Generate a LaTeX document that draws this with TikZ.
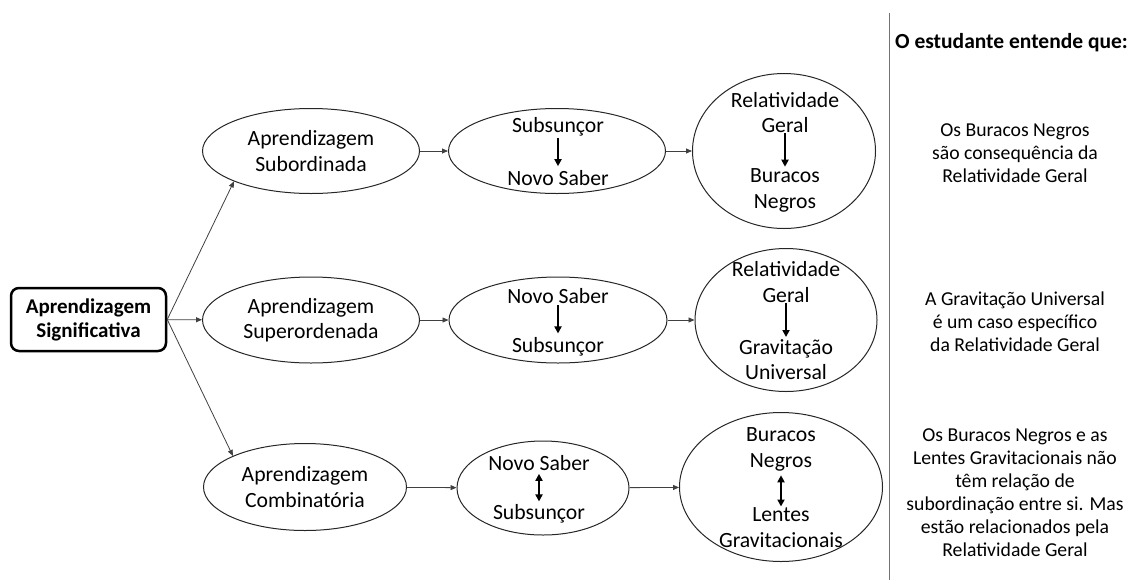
\documentclass[tikz,border=0pt]{standalone}
\usepackage{fontspec}
\setmainfont{Carlito}
\usetikzlibrary{shapes.geometric,arrows.meta}

\begin{document}
\begin{tikzpicture}[x=1pt,y=-1pt,
  elip/.style={draw=black!85,line width=1pt,ellipse,inner sep=0pt},
  txt/.style={font=\fontsize{21.7}{25.5}\selectfont,align=center,inner sep=0pt},
  note/.style={font=\fontsize{19.7}{23}\selectfont,align=center,inner sep=0pt},
  link/.style={draw=black!75,line width=0.8pt,-{Triangle[length=6pt,width=5pt]}},
  implies/.style={line width=2pt,shorten <=1.5pt,shorten >=4pt,-{Triangle[length=7pt,width=7pt]}},
  both/.style={line width=2pt,shorten <=3pt,shorten >=3pt,{Triangle[length=7pt,width=7pt]}-{Triangle[length=7pt,width=7pt]}}]
\useasboundingbox (0,0) rectangle (1132,587);
\node[draw,line width=2.5pt,rounded corners=8pt,minimum width=155pt,minimum height=63pt,
  font=\bfseries\fontsize{21}{24}\selectfont,align=center] (sig) at (88.5,319.5) {Aprendizagem\\Significativa};
\node[elip,txt,minimum width=217pt,minimum height=85pt] (sub) at (311,151) {Aprendizagem\\Subordinada};
\node[elip,txt,minimum width=217pt,minimum height=86pt] (sup) at (311,320) {Aprendizagem\\Superordenada};
\node[elip,txt,minimum width=203pt,minimum height=87pt] (comb) at (305,487) {Aprendizagem\\Combinatória};
% middle column
\node[elip,minimum width=217pt,minimum height=85pt] (m1) at (557,151) {};
\node[elip,minimum width=218pt,minimum height=86pt] (m2) at (558,320) {};
\node[elip,minimum width=172pt,minimum height=94pt] (m3) at (543,488) {};
\node[txt] (s1) at (558,127) {Subsunçor};
\node[txt] (n1) at (558,178) {Novo Saber};
\node[txt] (n2) at (558,296) {Novo Saber};
\node[txt] (s2) at (558,347) {Subsunçor};
\node[txt] (n3) at (539,463) {Novo Saber};
\node[txt] (s3) at (539,514) {Subsunçor};
\draw[implies] (s1) -- (n1);
\draw[implies] (n2) -- (s2);
\draw[both] (n3) -- (s3);
% right column
\node[elip,minimum width=183pt,minimum height=155pt] (c1) at (784,151) {};
\node[elip,minimum width=182pt,minimum height=143pt] (c2) at (786,320) {};
\node[elip,minimum width=203pt,minimum height=149pt] (c3) at (781,487) {};
\node[txt] (rg1) at (785,112.5) {Relatividade\\Geral};
\node[txt] (bn1) at (785,190.5) {Buracos\\Negros};
\node[txt] (rg2) at (786,282) {Relatividade\\Geral};
\node[txt] (gu2) at (786,359.5) {Gravitação\\Universal};
\node[txt] (bn3) at (781,449.5) {Buracos\\Negros};
\node[txt] (lg3) at (781,527.5) {Lentes\\Gravitacionais};
\draw[implies,shorten <=0pt,shorten >=2pt] (rg1) -- (bn1);
\draw[implies,shorten <=0pt,shorten >=2pt] (rg2) -- (gu2);
\draw[both,shorten <=4pt,shorten >=1pt] (bn3) -- (lg3);
% links
\draw[link] (sig.east) -- (sub.south west);
\draw[link] (sig) -- (sup);
\draw[link] (sig.east) -- (comb.north west);
\draw[link] (sub) -- (m1);
\draw[link] (sup) -- (m2);
\draw[link] (comb) -- (m3);
\draw[link] (m1) -- (c1);
\draw[link] (m2) -- (c2);
\draw[link] (m3) -- (c3);
% notes
\draw[black!55,line width=1pt] (889,13) -- (889,580);
\node[font=\bfseries\fontsize{21.5}{24}\selectfont,inner sep=0pt] (head) at (1011.5,43) {O estudante entende que:};
\node[note] (t1) at (1015,153) {Os Buracos Negros\\são consequência da\\Relatividade Geral};
\node[note] (t2) at (1015,322) {A Gravitação Universal\\é um caso específico\\da Relatividade Geral};
\node[note] (t3) at (1015,492.5) {Os Buracos Negros e as\\Lentes Gravitacionais não\\têm relação de\\subordinação entre si. Mas\\estão relacionados pela\\Relatividade Geral};
\end{tikzpicture}
\end{document}
